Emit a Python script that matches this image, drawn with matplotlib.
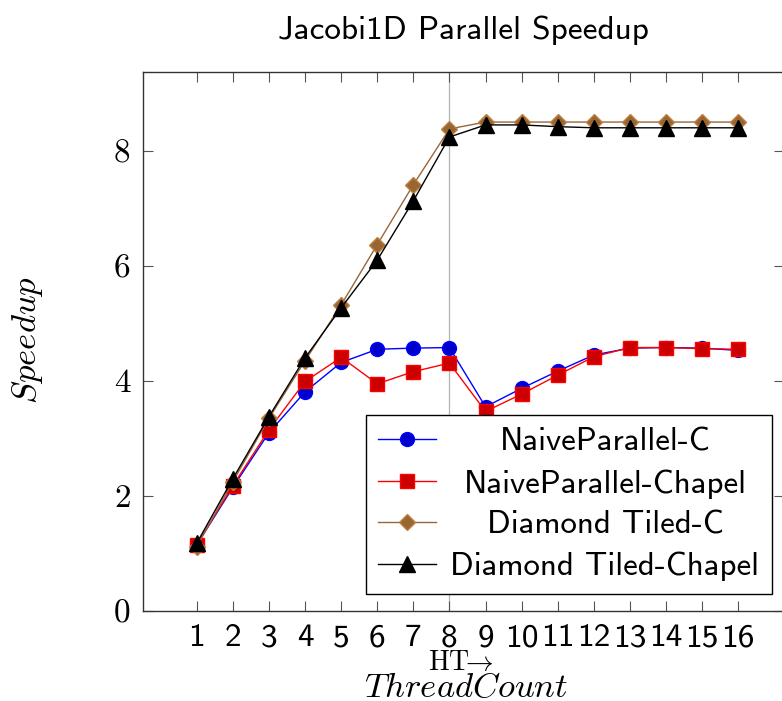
import matplotlib
matplotlib.use("Agg")
import matplotlib.pyplot as plt
import numpy as np

threads = list(range(1, 17))
tick_labels = [str(t) for t in threads]

naive_c = [1.15, 2.15, 3.10, 3.81, 4.32, 4.55, 4.57, 4.58, 3.55, 3.87, 4.17, 4.45, 4.57, 4.58, 4.57, 4.53]
naive_chapel = [1.15, 2.18, 3.15, 3.99, 4.41, 3.95, 4.16, 4.31, 3.47, 3.77, 4.10, 4.42, 4.58, 4.58, 4.56, 4.55]
diamond_c = [1.12, 2.25, 3.35, 4.35, 5.32, 6.37, 7.41, 8.38, 8.50, 8.50, 8.50, 8.50, 8.50, 8.50, 8.50, 8.50]
diamond_chapel = [1.18, 2.30, 3.38, 4.40, 5.27, 6.10, 7.13, 8.24, 8.45, 8.45, 8.42, 8.40, 8.40, 8.40, 8.40, 8.40]

series_names = ["NaiveParallel-C", "NaiveParallel-Chapel", "Diamond Tiled-C", "Diamond Tiled-Chapel"]
ht_thread = 8

plt.rcParams['mathtext.fontset'] = 'cm'
plt.rcParams['axes.unicode_minus'] = False

W, H = 782, 701
fig = plt.figure(figsize=(W / 100, H / 100), dpi=100)
left, right, top, bottom = 143, 784, 72, 611
aw, ah = right - left, bottom - top
ax = fig.add_axes([left / W, 1 - bottom / H, aw / W, ah / H])

ax.axvline(ht_thread, color='#b3b3b3', lw=0.9, zorder=1)

styles = [
    dict(color='#0000ff', marker='o', mfc='#0000cc', mec='#0000ff', ms=10),
    dict(color='#ff0000', marker='s', mfc='#cc0000', mec='#ff0000', ms=9.5),
    dict(color='#99663a', marker='D', mfc='#996633', mec='#bf8040', ms=8.5),
    dict(color='#000000', marker='^', mfc='#000000', mec='#000000', ms=11),
]
data = [naive_c, naive_chapel, diamond_c, diamond_chapel]
for name, vals, st in zip(series_names, data, styles):
    ax.plot(threads, vals, lw=1.0, label=name, zorder=3, **st)

ax.set_xlim(-0.49, 17.27)
ax.set_ylim(0, 9.37)
ax.set_xticks(threads)
ax.set_xticklabels(tick_labels, fontfamily='cmss10', fontsize=24)
ax.set_yticks([0, 2, 4, 6, 8])
ax.set_yticklabels(['0', '2', '4', '6', '8'], fontfamily='cmr10', fontsize=24)
ax.tick_params(axis='both', direction='in', length=7, width=0.8, color='#555555',
               top=True, right=True)
ax.tick_params(axis='x', pad=9)
ax.tick_params(axis='y', pad=9)
for s in ax.spines.values():
    s.set_linewidth(1.0)
    s.set_color('#333333')

ax.set_title('Jacobi1D Parallel Speedup', fontfamily='cmss10', fontsize=24, pad=24)
ax.set_ylabel(r'$Speedup$', fontsize=25)
ax.yaxis.set_label_coords((28 - left) / aw, (bottom - 340) / ah)
ax.yaxis.label.set_va('center')
ax.set_xlabel(r'$ThreadCount$', fontsize=25)
ax.xaxis.set_label_coords((466 - left) / aw, -(687 - bottom) / ah)
ax.xaxis.label.set_va('center')
ax.text(ht_thread + 0.33, -(662 - bottom) / ah, r'$\mathrm{HT}\!\!\rightarrow$', fontsize=20,
        ha='center', va='center', transform=ax.get_xaxis_transform(), zorder=5)

leg = ax.legend(loc='lower right', bbox_to_anchor=((772 - left) / aw, (bottom - 594) / ah),
                prop={'family': 'cmss10', 'size': 23.7}, frameon=True, fancybox=False,
                edgecolor='black', framealpha=1, handlelength=1.75, handletextpad=0.45,
                labelspacing=0.37, borderpad=0.38, borderaxespad=0)
leg.get_frame().set_linewidth(1.0)

fig.canvas.draw()
r = fig.canvas.get_renderer()
texts = leg.get_texts()
ws = [t.get_window_extent(r).width for t in texts]
mw = max(ws)
for t, w in zip(texts, ws):
    t.set_x((mw - w) / 2)

fig.savefig('out.png', dpi=100)
